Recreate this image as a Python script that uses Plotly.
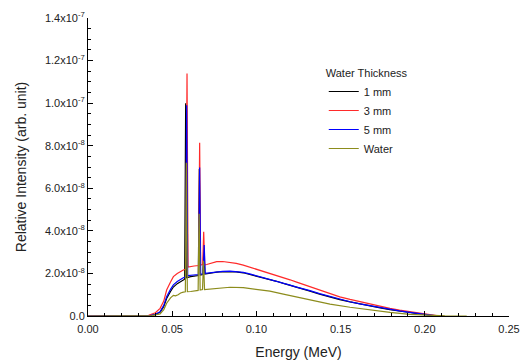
import plotly.graph_objects as go

SCALE = 1e-8  # intensities below are in units of 1e-8

# 1 mm
e_1mm = [0.0, 0.030, 0.037, 0.040, 0.0428, 0.045, 0.0467, 0.049, 0.0507, 0.053, 0.0546, 0.0566, 0.0574,
         0.0580, 0.0586, 0.061, 0.063, 0.0655, 0.0661, 0.0667, 0.0682, 0.0688, 0.0694, 0.0715, 0.0764,
         0.080, 0.0843, 0.088, 0.0922, 0.096, 0.1002, 0.104, 0.108, 0.112, 0.116, 0.120, 0.1239, 0.128,
         0.1318, 0.1375, 0.1437, 0.1495, 0.1556, 0.1615, 0.1675, 0.1735, 0.1793, 0.185, 0.1912, 0.197,
         0.2031, 0.207, 0.211]
i_1mm = [0, 0, 0.02, 0.07, 0.18, 0.45, 0.82, 1.15, 1.36, 1.52, 1.61, 1.70, 1.73,
         10.0, 1.80, 1.85, 1.88, 1.90, 6.9, 1.93, 1.95, 3.2, 1.97, 2.0, 2.06,
         2.08, 2.09, 2.07, 2.03, 1.96, 1.87, 1.80, 1.72, 1.63, 1.53, 1.43, 1.34, 1.26,
         1.17, 1.03, 0.89, 0.77, 0.66, 0.56, 0.47, 0.38, 0.30, 0.23, 0.16, 0.09,
         0.03, 0.01, 0]

# 3 mm
e_3mm = [0.0, 0.030, 0.036, 0.040, 0.0428, 0.045, 0.0467, 0.049, 0.0507, 0.053, 0.0546, 0.0566, 0.0581,
         0.0588, 0.0594, 0.061, 0.063, 0.0657, 0.0663, 0.0669, 0.0681, 0.0687, 0.0693, 0.0705, 0.0735,
         0.0764, 0.080, 0.0843, 0.088, 0.0922, 0.096, 0.1002, 0.104, 0.108, 0.112, 0.116, 0.120, 0.1239,
         0.128, 0.1318, 0.1375, 0.1437, 0.1495, 0.1556, 0.1615, 0.1675, 0.1735, 0.1793, 0.185, 0.1912,
         0.197, 0.2031, 0.207, 0.211]
i_3mm = [0, 0, 0.03, 0.15, 0.36, 0.70, 1.22, 1.60, 1.85, 2.0, 2.08, 2.16, 2.20,
         11.39, 2.30, 2.33, 2.35, 2.37, 8.14, 2.40, 2.42, 3.96, 2.40, 2.42, 2.50,
         2.55, 2.56, 2.53, 2.47, 2.39, 2.30, 2.19, 2.10, 2.0, 1.91, 1.82, 1.70, 1.59,
         1.48, 1.38, 1.20, 1.03, 0.90, 0.78, 0.67, 0.56, 0.46, 0.36, 0.28, 0.20,
         0.12, 0.05, 0.02, 0]

# 5 mm
e_5mm = [0.0, 0.030, 0.037, 0.040, 0.0428, 0.045, 0.0467, 0.049, 0.0507, 0.053, 0.0546, 0.0566, 0.0580,
         0.0586, 0.0592, 0.061, 0.063, 0.0657, 0.0663, 0.0669, 0.0684, 0.0690, 0.0696, 0.0715, 0.0764,
         0.080, 0.0843, 0.088, 0.0922, 0.096, 0.1002, 0.104, 0.108, 0.112, 0.116, 0.120, 0.1239, 0.128,
         0.1318, 0.1375, 0.1437, 0.1495, 0.1556, 0.1615, 0.1675, 0.1735, 0.1793, 0.185, 0.1912, 0.197,
         0.2031, 0.207, 0.211]
i_5mm = [0, 0, 0.02, 0.08, 0.20, 0.50, 0.91, 1.25, 1.46, 1.62, 1.72, 1.80, 1.84,
         9.9, 1.90, 1.91, 1.93, 1.95, 6.98, 1.97, 1.98, 3.33, 2.0, 2.02, 2.08,
         2.10, 2.11, 2.09, 2.05, 1.98, 1.89, 1.82, 1.74, 1.65, 1.55, 1.45, 1.36, 1.28,
         1.19, 1.05, 0.91, 0.79, 0.67, 0.57, 0.48, 0.39, 0.31, 0.24, 0.17, 0.10,
         0.03, 0.01, 0]

# Water
e_water = [0.0, 0.030, 0.038, 0.0428, 0.045, 0.0467, 0.049, 0.0507, 0.052, 0.0535, 0.055, 0.0566, 0.0578,
           0.0584, 0.0590, 0.061, 0.063, 0.0654, 0.0660, 0.0666, 0.0680, 0.0686, 0.0692, 0.071, 0.0764,
           0.0843, 0.0922, 0.1002, 0.108, 0.116, 0.120, 0.1239, 0.128, 0.1318, 0.1437, 0.1556, 0.1675,
           0.1793, 0.1912, 0.2031, 0.212, 0.2249]
i_water = [0, 0, 0.02, 0.10, 0.30, 0.60, 0.85, 0.97, 0.95, 1.0, 1.08, 1.12, 1.14,
           7.2, 1.14, 1.15, 1.17, 1.20, 4.8, 1.22, 1.24, 2.6, 1.24, 1.25, 1.30,
           1.35, 1.33, 1.25, 1.17, 1.03, 0.96, 0.90, 0.83, 0.75, 0.56, 0.41, 0.28,
           0.17, 0.08, 0.02, 0.005, 0]

series_names = ["1 mm", "3 mm", "5 mm", "Water"]
series_colors = ["#000000", "#ff2a2a", "#0000ff", "#8c8c1c"]
series_e = [e_1mm, e_3mm, e_5mm, e_water]
series_i = [i_1mm, i_3mm, i_5mm, i_water]

y_tickvals = [0, 2e-8, 4e-8, 6e-8, 8e-8, 1.0e-7, 1.2e-7, 1.4e-7]
y_ticktext = ["0.0", "2.0x10<sup>-8</sup>", "4.0x10<sup>-8</sup>", "6.0x10<sup>-8</sup>",
              "8.0x10<sup>-8</sup>", "1.0x10<sup>-7</sup>", "1.2x10<sup>-7</sup>", "1.4x10<sup>-7</sup>"]

fig = go.Figure()
for name, col, ex, iy in zip(series_names, series_colors, series_e, series_i):
    fig.add_trace(go.Scatter(x=ex, y=[v * SCALE for v in iy], mode="lines", name=name,
                             line=dict(color=col, width=1.2)))

FONT = "Liberation Sans, Arial, sans-serif"
fig.update_layout(
    width=523, height=363,
    margin=dict(l=88, r=14, t=18, b=47),
    paper_bgcolor="white", plot_bgcolor="white",
    font=dict(family=FONT, size=11, color="#222"),
    showlegend=True,
    legend=dict(x=0.56, y=0.85, xanchor="left", yanchor="top",
                bgcolor="rgba(0,0,0,0)", borderwidth=0,
                title=dict(text="Water Thickness", font=dict(size=11, color="#222")),
                font=dict(size=11, color="#222"), itemwidth=30, tracegroupgap=0),
)
fig.update_xaxes(range=[0, 0.25], dtick=0.05, tick0=0, tickformat=".2f",
                 showline=True, linecolor="black", linewidth=1, mirror=False,
                 ticks="inside", ticklen=5, tickcolor="black", showgrid=False, zeroline=False,
                 ticklabelstandoff=3,
                 minor=dict(dtick=0.01, tick0=0, ticks="inside", ticklen=3, tickcolor="black", showgrid=False),
                 title=dict(text="Energy (MeV)", font=dict(size=14, color="#222"), standoff=12),
                 automargin=False)
fig.update_yaxes(range=[0, 1.4e-7], tickmode="array", tickvals=y_tickvals, ticktext=y_ticktext,
                 showline=True, linecolor="black", linewidth=1, mirror=False,
                 ticks="inside", ticklen=5, tickcolor="black", showgrid=False, zeroline=False,
                 minor=dict(tickmode="linear", tick0=0, dtick=0.5e-8, ticks="inside", ticklen=3,
                            tickcolor="black", showgrid=False),
                 title=dict(text="Relative Intensity (arb. unit)", font=dict(size=14, color="#222"), standoff=15),
                 automargin=False)

fig.write_html("out.html", config={"displayModeBar": False},
               post_script="document.body.style.margin='0px';document.body.style.overflow='hidden';")
